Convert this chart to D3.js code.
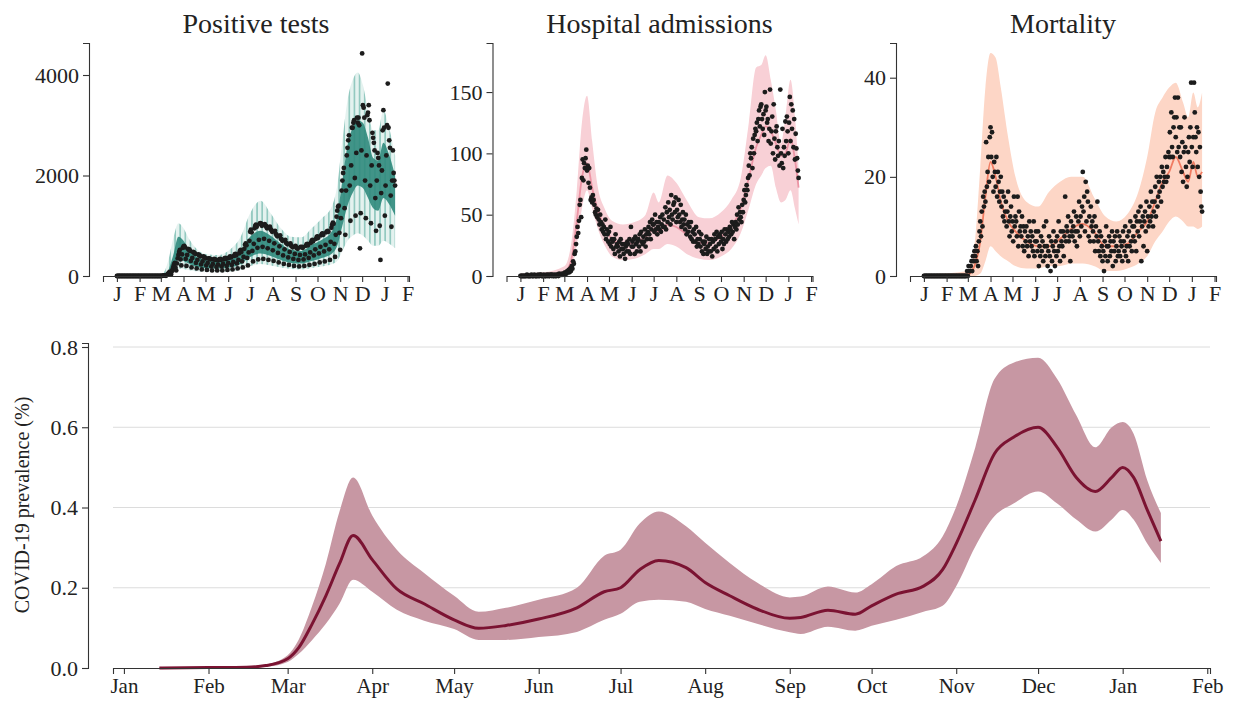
<!DOCTYPE html>
<html>
<head>
<meta charset="utf-8">
<script src="https://cdn.jsdelivr.net/npm/d3@7"></script>
<style>
  body { margin: 0; background: #fff; }
  text { font-family: "Liberation Serif", "DejaVu Serif", serif; fill: #222; }
  .domain, .tick line { stroke: #333; }
</style>
</head>
<body>
<svg id="chart" width="1237" height="702"></svg>
<script>
// ---- tick labels ----
const monthTicks = ['2020-01-01','2020-02-01','2020-03-01','2020-04-01','2020-05-01','2020-06-01','2020-07-01',
  '2020-08-01','2020-09-01','2020-10-01','2020-11-01','2020-12-01','2021-01-01','2021-02-01'];
const topMonthLabels = ['J','F','M','A','M','J','J','A','S','O','N','D','J','F'];
const bottomMonthLabels = ['Jan','Feb','Mar','Apr','May','Jun','Jul','Aug','Sep','Oct','Nov','Dec','Jan','Feb'];
const panelTitles = ['Positive tests', 'Hospital admissions', 'Mortality'];

// ---- daily observations, first day 2020-01-01, one row per week ----
const testsDaily = [
  0,0,0,0,0,0,0, 0,0,0,0,0,0,0, 0,0,0,0,0,0,0, 0,0,0,0,0,0,0,
  0,0,0,0,0,0,0, 0,0,0,0,0,0,0, 0,0,0,0,0,0,0, 0,0,0,0,0,0,0,
  0,0,0,0,0,2,4,
  6,10,14,8,5,18,30,
  45,60,80,50,30,90,130,
  180,230,260,170,110,250,350,
  420,480,520,330,210,430,560,
  590,600,570,340,200,420,540,
  520,530,500,300,170,360,480,
  470,460,440,260,150,320,430,
  420,410,390,230,130,290,390,
  380,370,350,210,120,260,350,
  350,340,330,190,110,240,330,
  340,330,320,180,110,230,320,
  330,340,320,190,110,240,330,
  350,360,340,200,120,260,360,
  380,390,370,220,130,280,400,
  430,440,410,250,150,320,450,
  500,520,480,290,170,380,540,
  620,650,610,360,210,470,700,
  880,920,870,500,290,640,950,
  1000,1020,980,560,330,720,1040,
  1050,1040,1000,580,340,740,1030,
  1000,990,950,550,320,700,980,
  930,910,880,510,300,650,900,
  840,820,790,460,270,590,810,
  740,730,700,410,240,530,720,
  660,650,630,370,220,480,650,
  600,590,570,340,200,440,600,
  560,560,540,320,190,420,580,
  570,580,560,330,200,430,600,
  630,640,610,360,220,470,660,
  700,720,690,410,240,530,740,
  780,790,760,450,270,580,810,
  840,850,820,490,290,620,870,
  890,900,880,530,320,680,960,
  1020,1060,1040,640,380,820,1180,
  1300,1380,1400,860,520,1150,1700,
  1900,2050,2150,1350,820,1700,2400,
  2550,2700,2800,1800,1100,2200,2950,
  2950,3050,3100,1950,1200,2450,3150,
  3050,3150,3000,550,1250,2500,4430,
  3400,3350,3150,1900,1150,2400,3200,
  3250,3400,3100,1800,1050,2200,2850,
  2750,2650,2500,1550,900,1900,2450,
  2350,2200,1000,320,1650,2100,2900,
  3300,2950,1200,1800,2400,3000,3830,
  2950,2700,2550,1600,980,1900,2500,
  2050,1900,1800
];

const hospDaily = [
  0,0,0,0,0,0,0, 0,0,1,0,0,0,0, 0,1,0,0,0,1,0, 0,0,0,1,0,0,1,
  1,0,0,0,1,0,0, 0,1,0,1,0,0,1, 1,0,1,0,0,1,0, 0,1,1,0,2,1,1,
  1,2,1,2,1,3,2,
  2,4,3,5,3,6,4,
  8,6,12,10,18,20,26,
  32,40,35,45,58,62,48,
  80,95,78,92,88,96,103,
  86,90,76,88,72,62,64,
  60,66,62,58,52,50,55,
  48,54,46,42,50,44,38,
  42,36,40,34,46,30,38,
  34,28,36,26,40,24,30,
  28,22,30,18,34,24,26,
  24,20,28,16,30,22,26,
  22,18,26,14,24,20,28,
  26,20,30,18,40,24,28,
  24,30,18,32,26,20,28,
  30,24,34,20,36,28,26,
  32,28,38,24,34,30,36,
  40,34,44,30,38,46,42,
  42,36,50,38,44,34,40,
  44,38,48,36,42,50,40,
  46,40,56,38,52,44,60,
  48,54,42,66,50,46,58,
  60,52,64,44,54,48,62,
  50,44,58,40,46,52,42,
  46,38,50,34,42,36,44,
  40,32,44,30,36,28,38,
  34,28,40,24,30,26,36,
  30,24,34,20,28,18,26,
  28,22,32,18,24,20,30,
  26,20,30,16,28,22,34,
  30,24,36,20,32,26,34,
  32,28,36,22,30,26,38,
  34,28,38,30,36,32,40,
  38,34,44,36,42,30,40,
  44,38,50,42,56,46,52,
  48,44,58,52,62,70,60,
  66,74,70,80,90,82,100,
  96,105,88,112,100,115,120,
  118,125,110,128,135,122,138,
  140,128,120,132,115,150,135,
  138,125,128,110,120,152,108,
  118,130,100,140,112,95,118,
  122,105,98,110,90,152,100,
  92,120,88,105,98,126,110,
  130,118,100,125,146,110,140,
  120,135,105,128,95,116,104,
  96,86,80
];

const deathsDaily = [
  0,0,0,0,0,0,0, 0,0,0,0,0,0,0, 0,0,0,0,0,0,0, 0,0,0,0,0,0,0,
  0,0,0,0,0,0,0, 0,0,0,0,0,0,0, 0,0,0,0,0,0,0, 0,0,0,0,0,0,0,
  0,0,0,1,0,2,1,
  1,2,3,1,4,3,5,
  4,6,3,5,2,7,9,
  11,8,13,10,16,14,17,
  15,27,18,21,24,19,28,
  30,24,29,20,17,23,21,
  18,24,16,21,19,15,17,
  20,14,17,12,16,11,13,
  15,10,13,17,11,8,12,
  14,9,11,7,16,10,12,
  11,8,16,6,13,9,10,
  8,12,6,10,5,9,7,
  10,6,8,4,11,7,9,
  6,8,5,11,4,7,9,
  7,5,9,2,6,4,8,
  5,7,3,10,6,4,11,
  6,2,5,8,4,1,7,
  3,6,9,5,2,7,4,
  8,5,11,6,3,9,7,
  6,9,4,8,16,7,10,
  9,12,7,8,3,11,9,
  8,10,13,7,9,12,6,
  9,11,15,8,12,10,14,
  21,13,16,9,19,11,17,
  15,8,12,7,14,10,11,
  9,7,12,5,10,8,15,
  7,5,9,4,8,6,3,
  5,1,7,4,10,6,3,
  6,8,4,7,5,9,2,
  7,5,8,3,6,9,4,
  5,8,4,7,6,3,9,
  7,5,10,4,6,8,3,
  9,6,11,7,5,10,8,
  10,7,12,5,11,9,13,
  8,11,14,3,10,12,6,
  11,13,9,15,5,12,10,
  14,11,17,12,15,10,13,
  15,18,12,20,14,16,19,
  17,20,15,22,18,21,19,
  20,24,19,22,20,25,24,
  29,24,33,26,24,30,32,
  36,28,32,25,36,26,30,
  24,30,21,27,19,25,32,
  26,22,18,20,25,28,23,
  30,39,26,22,28,39,33,
  28,25,30,22,29,20,26,
  17,14,13
];

// ---- model bands ----
const testsBandDates = ['2020-01-01','2020-02-26','2020-03-04','2020-03-11','2020-03-18','2020-03-25','2020-04-01',
  '2020-04-08','2020-04-15','2020-04-22','2020-05-06','2020-05-20','2020-06-03','2020-06-17','2020-07-01',
  '2020-07-15','2020-07-29','2020-08-12','2020-08-26','2020-09-09','2020-09-23','2020-10-07','2020-10-21',
  '2020-10-28','2020-11-04','2020-11-11','2020-11-18','2020-11-25','2020-12-02','2020-12-09','2020-12-16',
  '2020-12-23','2020-12-30','2021-01-06','2021-01-15'];
const testsOuterLo = [0,0,2,20,80,150,140,120,100,90,80,80,90,120,200,240,210,170,140,130,160,190,240,
  300,500,700,800,850,800,700,600,600,700,650,550];
const testsCoreLo = [0,0,5,40,150,330,300,250,200,170,150,150,170,230,380,450,400,320,260,250,300,360,450,
  600,1000,1400,1650,1800,1750,1550,1350,1300,1550,1450,1200];
const testsCoreHi = [0,2,15,110,420,780,700,520,420,360,310,300,350,470,780,900,800,640,520,500,620,720,900,
  1200,1900,2600,2950,3100,3050,2750,2350,2300,2650,2450,2000];
const testsOuterHi = [0,5,50,300,750,1050,950,750,600,500,430,420,520,750,1250,1500,1250,950,780,770,950,1150,1400,
  1800,2700,3500,3900,4050,3800,3300,2900,2900,3300,3000,2400];

const hospBandDates = ['2020-01-01','2020-02-01','2020-03-01','2020-03-10','2020-03-18','2020-03-25','2020-04-01',
  '2020-04-08','2020-04-15','2020-04-25','2020-05-05','2020-05-20','2020-06-05','2020-06-20','2020-07-01',
  '2020-07-08','2020-07-20','2020-08-01','2020-08-15','2020-09-01','2020-09-15','2020-10-01','2020-10-15',
  '2020-10-28','2020-11-08','2020-11-18','2020-11-25','2020-12-01','2020-12-08','2020-12-15','2020-12-22',
  '2020-12-28','2021-01-04','2021-01-10','2021-01-15'];
const hospLo = [0,0,1,6,25,55,70,55,40,25,16,13,14,18,22,22,26,24,18,14,13,16,22,35,55,75,82,88,90,72,60,62,70,55,42];
const hospMid = [0.5,0.5,3,12,45,80,92,72,55,40,30,26,27,32,38,36,42,40,34,27,27,32,40,55,80,105,115,122,118,108,98,100,112,95,72];
const hospHi = [2,3,8,25,70,125,147,110,75,55,45,42,44,50,68,60,82,76,62,48,47,52,62,80,125,170,172,180,160,135,108,130,160,130,88];

const deathBandDates = ['2020-01-01','2020-03-01','2020-03-10','2020-03-18','2020-03-25','2020-04-01','2020-04-08',
  '2020-04-15','2020-04-25','2020-05-05','2020-05-20','2020-06-05','2020-06-20','2020-07-05','2020-07-20',
  '2020-08-05','2020-08-20','2020-09-05','2020-09-20','2020-10-05','2020-10-20','2020-11-01','2020-11-12',
  '2020-11-22','2020-12-01','2020-12-10','2020-12-20','2020-12-27','2021-01-03','2021-01-09','2021-01-15'];
const deathLo = [0,0,0,0.5,3,6,5,4,3,2,1.5,1.5,2,2,2.5,2.5,2,1,1,1.5,2.5,4,7,9,11,12,11,10,10,9.5,10];
const deathMid = [0,0.3,2,7,16,23,20,15,11,9,7,6,6,7.5,9.5,10.5,9,6,6,6.5,9,11,15,19,21,24,21,19,23,20,21];
const deathHi = [0.3,1,6,22,38,45,44,38,28,20,15,14,17,19,20,20,16,12,11,12.5,17,24,33,36,38,39,35,32,37,34,37];

// ---- prevalence (bottom) ----
const prevDates = ['2020-01-14','2020-02-01','2020-02-15','2020-02-22','2020-03-01','2020-03-05','2020-03-10',
  '2020-03-15','2020-03-20','2020-03-25','2020-04-01','2020-04-10','2020-04-20','2020-05-01','2020-05-10',
  '2020-05-20','2020-06-01','2020-06-15','2020-06-25','2020-07-01','2020-07-08','2020-07-15','2020-07-25',
  '2020-08-01','2020-08-10','2020-08-20','2020-09-01','2020-09-05','2020-09-15','2020-09-25','2020-10-01',
  '2020-10-10','2020-10-20','2020-10-27','2020-11-01','2020-11-08','2020-11-15','2020-11-22','2020-12-01',
  '2020-12-08','2020-12-15','2020-12-22','2020-12-28','2021-01-01','2021-01-05','2021-01-10','2021-01-15'];
const prevLo = [0,0,0.001,0.003,0.015,0.035,0.07,0.11,0.16,0.22,0.19,0.145,0.118,0.097,0.07,0.07,0.077,0.09,
  0.12,0.135,0.165,0.17,0.165,0.147,0.13,0.11,0.089,0.085,0.103,0.093,0.105,0.12,0.14,0.155,0.204,0.303,
  0.378,0.41,0.44,0.41,0.37,0.34,0.37,0.394,0.37,0.31,0.262];
const prevMid = [0,0.001,0.002,0.006,0.023,0.05,0.11,0.18,0.26,0.33,0.27,0.197,0.16,0.12,0.099,0.106,0.122,
  0.15,0.19,0.2,0.245,0.268,0.25,0.213,0.18,0.147,0.124,0.126,0.144,0.134,0.155,0.184,0.204,0.245,0.31,0.42,
  0.534,0.575,0.6,0.55,0.475,0.44,0.475,0.5,0.475,0.394,0.316];
const prevHi = [0.002,0.003,0.004,0.009,0.032,0.07,0.155,0.26,0.39,0.475,0.38,0.295,0.237,0.18,0.14,0.15,0.17,
  0.2,0.28,0.295,0.36,0.39,0.353,0.312,0.262,0.213,0.176,0.178,0.203,0.188,0.209,0.254,0.279,0.328,0.402,0.55,
  0.72,0.761,0.773,0.72,0.63,0.55,0.6,0.613,0.584,0.468,0.386];

// ---------------------------------------------------------------------------
const parseDate = d3.timeParse('%Y-%m-%d');
const firstDay = parseDate('2020-01-01');
const tickDates = monthTicks.map(parseDate);
const svg = d3.select('#chart');
const defs = svg.append('defs');

function styleAxis(g, size) {
  g.selectAll('.domain').attr('stroke', '#333').attr('stroke-width', 1.1);
  g.selectAll('.tick line').attr('stroke', '#333').attr('stroke-width', 1.1);
  g.selectAll('.tick text').attr('font-size', size).attr('fill', '#222')
    .attr('font-family', '"Liberation Serif", serif');
}

function drawTop(i, daily, yMax, yTicks, drawModel) {
  const left = 103 + i * 403.5, right = left + 306;
  const x = d3.scaleTime()
    .domain([parseDate('2019-12-13'), parseDate('2021-02-03')])
    .range([left, right]);
  const y = d3.scaleLinear().domain([0, yMax]).range([276, 43]);
  const g = svg.append('g');

  drawModel(g, x, y);

  g.append('g').selectAll('circle')
    .data(daily)
    .join('circle')
    .attr('cx', (d, k) => x(d3.timeDay.offset(firstDay, k)))
    .attr('cy', d => y(d))
    .attr('r', 2.4)
    .attr('fill', '#1c1c1c');

  const ax = g.append('g')
    .attr('transform', 'translate(0,276)')
    .call(d3.axisBottom(x).tickValues(tickDates).tickFormat((d, k) => topMonthLabels[k])
      .tickSizeOuter(0).tickSize(6).tickPadding(3));
  styleAxis(ax, 22);

  const ay = g.append('g')
    .attr('transform', `translate(${left - 14},0)`)
    .call(d3.axisLeft(y).tickValues(yTicks).tickFormat(d3.format('d'))
      .tickSizeOuter(0).tickSize(6).tickPadding(4));
  styleAxis(ay, 22);

  g.append('text')
    .attr('x', (left + right) / 2)
    .attr('y', 33)
    .attr('text-anchor', 'middle')
    .attr('font-size', 28)
    .text(panelTitles[i]);
}

// Positive tests
drawTop(0, testsDaily, 4637, [0, 2000, 4000], (g, x, y) => {
  const bd = testsBandDates.map(parseDate);
  const weekW = x(d3.timeDay.offset(firstDay, 7)) - x(firstDay);
  const pat = defs.append('pattern').attr('id', 'stripes')
    .attr('patternUnits', 'userSpaceOnUse').attr('width', weekW).attr('height', 8);
  pat.append('rect').attr('width', weekW).attr('height', 8).attr('fill', '#e4f2ef');
  pat.append('rect').attr('width', 1.7).attr('height', 8).attr('fill', '#93c9c0');
  g.append('path')
    .datum(bd)
    .attr('fill', 'url(#stripes)')
    .attr('d', d3.area().x(d => x(d)).y0((d, k) => y(testsOuterLo[k])).y1((d, k) => y(testsOuterHi[k]))
      .curve(d3.curveMonotoneX));
  g.append('path')
    .datum(bd)
    .attr('fill', '#2f8a7c')
    .attr('fill-opacity', 0.9)
    .attr('d', d3.area().x(d => x(d)).y0((d, k) => y(testsCoreLo[k])).y1((d, k) => y(testsCoreHi[k]))
      .curve(d3.curveMonotoneX));
});

// Hospital admissions
drawTop(1, hospDaily, 190, [0, 50, 100, 150], (g, x, y) => {
  const bd = hospBandDates.map(parseDate);
  g.append('path').datum(bd).attr('fill', '#f8d0d6')
    .attr('d', d3.area().x(d => x(d)).y0((d, k) => y(hospLo[k])).y1((d, k) => y(hospHi[k]))
      .curve(d3.curveMonotoneX));
  g.append('path').datum(bd).attr('fill', 'none').attr('stroke', '#ec95a5').attr('stroke-width', 1.8)
    .attr('d', d3.line().x(d => x(d)).y((d, k) => y(hospMid[k])).curve(d3.curveMonotoneX));
});

// Mortality
drawTop(2, deathsDaily, 47, [0, 20, 40], (g, x, y) => {
  const bd = deathBandDates.map(parseDate);
  g.append('path').datum(bd).attr('fill', '#fdd6c6')
    .attr('d', d3.area().x(d => x(d)).y0((d, k) => y(deathLo[k])).y1((d, k) => y(deathHi[k]))
      .curve(d3.curveMonotoneX));
  g.append('path').datum(bd).attr('fill', 'none').attr('stroke', '#f07c62').attr('stroke-width', 1.8)
    .attr('d', d3.line().x(d => x(d)).y((d, k) => y(deathMid[k])).curve(d3.curveMonotoneX));
});

// ---- bottom: prevalence ----
const bx = d3.scaleTime()
  .domain([parseDate('2019-12-28'), parseDate('2021-02-02')])
  .range([113, 1210]);
const by = d3.scaleLinear().domain([0, 0.81]).range([668, 343]);
const bottom = svg.append('g');
const yTicksBottom = [0, 0.2, 0.4, 0.6, 0.8];

bottom.append('g').selectAll('line')
  .data(yTicksBottom.slice(1))
  .join('line')
  .attr('x1', 113).attr('x2', 1210)
  .attr('y1', d => by(d)).attr('y2', d => by(d))
  .attr('stroke', '#dcdcdc').attr('stroke-width', 1);

const pd = prevDates.map(parseDate);
bottom.append('path').datum(pd)
  .attr('fill', '#c797a3')
  .attr('d', d3.area().x(d => bx(d)).y0((d, k) => by(prevLo[k])).y1((d, k) => by(prevHi[k]))
    .curve(d3.curveMonotoneX));
bottom.append('path').datum(pd)
  .attr('fill', 'none').attr('stroke', '#7b1332').attr('stroke-width', 3)
  .attr('d', d3.line().x(d => bx(d)).y((d, k) => by(prevMid[k])).curve(d3.curveMonotoneX));

const bax = bottom.append('g')
  .attr('transform', 'translate(0,668)')
  .call(d3.axisBottom(bx).tickValues(tickDates).tickFormat((d, k) => bottomMonthLabels[k])
    .tickSizeOuter(0).tickSize(6).tickPadding(4));
styleAxis(bax, 21);

const bay = bottom.append('g')
  .attr('transform', 'translate(88,0)')
  .call(d3.axisLeft(by).tickValues(yTicksBottom).tickFormat(d3.format('.1f'))
    .tickSizeOuter(0).tickSize(6).tickPadding(4));
styleAxis(bay, 22);

bottom.append('text')
  .attr('transform', 'translate(29,505) rotate(-90)')
  .attr('text-anchor', 'middle')
  .attr('font-size', 20)
  .text('COVID-19 prevalence (%)');
</script>
</body>
</html>
